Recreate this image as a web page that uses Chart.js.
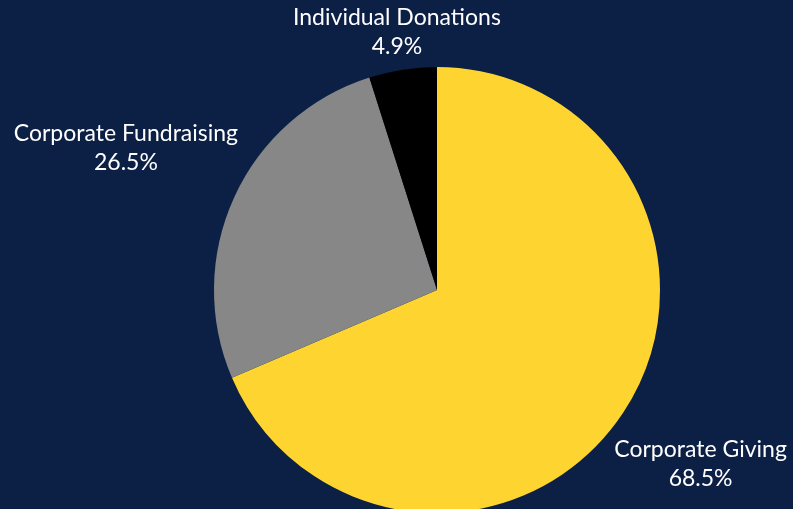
<!DOCTYPE html>
<html>
<head>
<meta charset="utf-8">
<script src="https://cdn.jsdelivr.net/npm/chart.js@4/dist/chart.umd.min.js"></script>
<style>
  html, body { margin: 0; padding: 0; background: #0c1f45; overflow: hidden; width: 793px; height: 509px; }
  #wrap { position: absolute; left: 0; top: 0; width: 793px; height: 580px; }
</style>
</head>
<body>
<div id="wrap"><canvas id="c"></canvas></div>
<script>
const categories = ['Corporate Giving', 'Corporate Fundraising', 'Individual Donations'];
const shares = [68.5, 26.5, 4.9];
const sliceColors = ['#fed530', '#878787', '#000000'];

const outsideLabels = {
  id: 'outsideLabels',
  afterDatasetsDraw(chart) {
    const ctx = chart.ctx;
    const meta = chart.getDatasetMeta(0);
    ctx.save();
    ctx.font = '23px Lato';
    ctx.fillStyle = '#ffffff';
    ctx.textAlign = 'center';
    ctx.textBaseline = 'middle';
    const lh = 29, gap = 6;
    meta.data.forEach((arc, i) => {
      const p = arc.getProps(['x', 'y', 'startAngle', 'endAngle', 'outerRadius'], true);
      const mid = (p.startAngle + p.endAngle) / 2;
      const vx = Math.cos(mid), vy = Math.sin(mid);
      const lines = [categories[i], shares[i].toFixed(1) + '%'];
      const w = Math.max(...lines.map(l => ctx.measureText(l).width));
      const h = lh * lines.length;
      const target = p.outerRadius + gap;
      let lo = 0, hi = 2000, cx = p.x, cy = p.y;
      for (let k = 0; k < 60; k++) {
        const t = (lo + hi) / 2;
        cx = p.x + vx * t; cy = p.y + vy * t;
        const px = Math.min(Math.max(p.x, cx - w / 2), cx + w / 2);
        const py = Math.min(Math.max(p.y, cy - h / 2), cy + h / 2);
        const d = Math.hypot(px - p.x, py - p.y);
        if (d < target) lo = t; else hi = t;
      }
      lines.forEach((l, j) => {
        ctx.fillText(l, cx, cy - h / 2 + lh * (j + 0.5));
      });
    });
    ctx.restore();
  }
};

new Chart(document.getElementById('c'), {
  type: 'pie',
  data: {
    labels: categories,
    datasets: [{
      data: shares,
      backgroundColor: sliceColors,
      borderWidth: 0,
      clip: false
    }]
  },
  options: {
    responsive: true,
    maintainAspectRatio: false,
    animation: false,
    radius: 223,
    layout: { padding: { left: 81, top: 0, bottom: 0, right: 0 } },
    plugins: {
      legend: { display: false },
      tooltip: { enabled: false }
    }
  },
  plugins: [outsideLabels]
});
</script>
</body>
</html>
